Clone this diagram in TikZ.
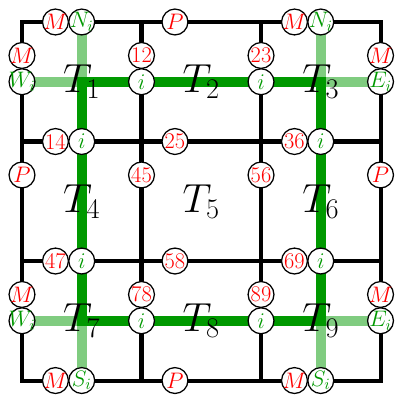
\RequirePackage{fix-cm}
\documentclass[tikz,border=0pt]{standalone}
\usetikzlibrary{backgrounds}
\definecolor{MeshRed}{HTML}{FF0000}
\definecolor{MeshGreen}{HTML}{009900}
\tikzset{
  gridline/.style={draw=black, line width=2.9pt},
  ring/.style={draw=MeshGreen, line width=7pt},
  spur/.style={draw=MeshGreen!50, line width=7pt},
  port/.style={circle, draw=black, line width=0.9pt, fill=white, minimum size=0.65cm, inner sep=-4pt, text=MeshRed, font=\fontsize{16}{19}\selectfont},
  link/.style={port, text=MeshGreen},
  tile/.style={inner sep=0pt, font=\fontsize{29}{32}\selectfont},
}

\begin{document}
\begin{tikzpicture}[x=3cm,y=3cm]
  \useasboundingbox (-0.184,-0.121) rectangle (3.121,3.184);
  % tiles
  \foreach \k/\x/\y in {1/0.5/2.5,2/1.5/2.5,3/2.5/2.5,4/0.5/1.5,5/1.5/1.5,6/2.5/1.5,7/0.5/0.5,8/1.5/0.5,9/2.5/0.5}
    \node[tile] (t\k) at (\x,\y) {$T_\k$};
  % red ports
  \foreach \nm/\x/\y/\txt in {m1/0.28/3/$M$, p1/1.28/3/$P$, m2/2.28/3/$M$,
      m3/0/2.72/$M$, p2/0/1.72/$P$, m4/0/0.72/$M$,
      m5/3/2.72/$M$, p3/3/1.72/$P$, m6/3/0.72/$M$,
      m7/0.28/0/$M$, p4/1.28/0/$P$, m8/2.28/0/$M$,
      q12/1/2.72/12, q23/2/2.72/23, q14/0.28/2/14, q25/1.28/2/25, q36/2.28/2/36,
      q45/1/1.72/45, q56/2/1.72/56, q47/0.28/1/47, q58/1.28/1/58, q69/2.28/1/69,
      q78/1/0.72/78, q89/2/0.72/89}
    \node[port] (\nm) at (\x,\y) {\txt};
  % green links
  \foreach \nm/\x/\y/\txt in {i12/1/2.5/i, i23/2/2.5/i, i14/0.5/2/i, i36/2.5/2/i,
      i47/0.5/1/i, i69/2.5/1/i, i78/1/0.5/i, i89/2/0.5/i,
      n1/0.5/3/N_i, n3/2.5/3/N_i, w1/0/2.5/W_i, w7/0/0.5/W_i,
      e3/3/2.5/E_i, e9/3/0.5/E_i, s7/0.5/0/S_i, s9/2.5/0/S_i}
    \node[link] (\nm) at (\x,\y) {$\txt$};
  \begin{scope}[on background layer]
    \draw[gridline] (0,0) rectangle (3,3);
    \foreach \v in {1,2}{
      \draw[gridline] (\v,0) -- (\v,3);
      \draw[gridline] (0,\v) -- (3,\v);
    }
    \draw[spur] (w1.center) -- (t1.center) -- (n1.center);
    \draw[spur] (n3.center) -- (t3.center) -- (e3.center);
    \draw[spur] (w7.center) -- (t7.center) -- (s7.center);
    \draw[spur] (s9.center) -- (t9.center) -- (e9.center);
    \draw[ring] (t1.center) -- (t2.center) -- (t3.center) -- (t6.center) -- (t9.center)
      -- (t8.center) -- (t7.center) -- (t4.center) -- cycle;
  \end{scope}
\end{tikzpicture}
\end{document}
